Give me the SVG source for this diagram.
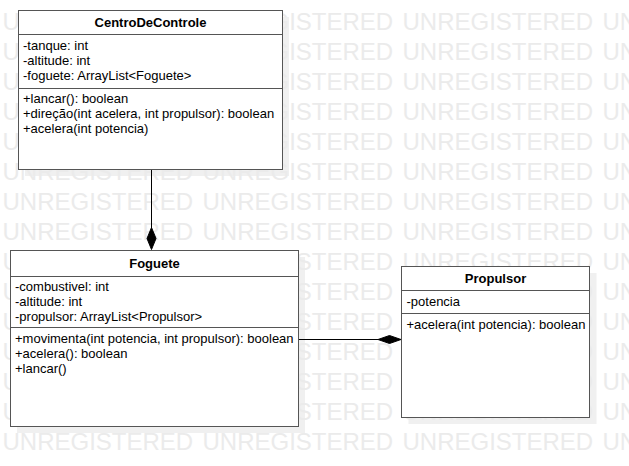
<svg xmlns="http://www.w3.org/2000/svg" width="629" height="466" viewBox="0 0 629 466">
<style>
.wm{font-family:"Liberation Sans",Arial,sans-serif;font-size:24px;fill:#ebebeb}
.shadow{fill:#f0f0f0;stroke:none}
.box{fill:#ffffff;stroke:#555555;stroke-width:1}
.sep{stroke:#555555;stroke-width:1}
.t{font-family:"Liberation Sans",Arial,sans-serif;font-size:13px;fill:#000000}
.title{font-family:"Liberation Sans",Arial,sans-serif;font-size:13px;font-weight:bold;fill:#000000;text-anchor:middle}
.conn{stroke:#000000;stroke-width:1;fill:none}
.dia{fill:#000000;stroke:#000000;stroke-width:1}
</style>
<rect x="0" y="0" width="629" height="466" fill="#ffffff"/>
<g id="shadows">
<rect class="shadow" x="25" y="17" width="264" height="159"/>
<rect class="shadow" x="17" y="257" width="288" height="176"/>
<rect class="shadow" x="408.5" y="273" width="188" height="151"/>
</g>
<g id="watermark">
<text class="wm" x="2.5" y="30">UNREGISTERED</text><text class="wm" x="202.5" y="30">UNREGISTERED</text><text class="wm" x="402.5" y="30">UNREGISTERED</text><text class="wm" x="602.5" y="30">UNREGISTERED</text>
<text class="wm" x="2.5" y="60">UNREGISTERED</text><text class="wm" x="202.5" y="60">UNREGISTERED</text><text class="wm" x="402.5" y="60">UNREGISTERED</text><text class="wm" x="602.5" y="60">UNREGISTERED</text>
<text class="wm" x="2.5" y="90">UNREGISTERED</text><text class="wm" x="202.5" y="90">UNREGISTERED</text><text class="wm" x="402.5" y="90">UNREGISTERED</text><text class="wm" x="602.5" y="90">UNREGISTERED</text>
<text class="wm" x="2.5" y="120">UNREGISTERED</text><text class="wm" x="202.5" y="120">UNREGISTERED</text><text class="wm" x="402.5" y="120">UNREGISTERED</text><text class="wm" x="602.5" y="120">UNREGISTERED</text>
<text class="wm" x="2.5" y="150">UNREGISTERED</text><text class="wm" x="202.5" y="150">UNREGISTERED</text><text class="wm" x="402.5" y="150">UNREGISTERED</text><text class="wm" x="602.5" y="150">UNREGISTERED</text>
<text class="wm" x="2.5" y="180">UNREGISTERED</text><text class="wm" x="202.5" y="180">UNREGISTERED</text><text class="wm" x="402.5" y="180">UNREGISTERED</text><text class="wm" x="602.5" y="180">UNREGISTERED</text>
<text class="wm" x="2.5" y="210">UNREGISTERED</text><text class="wm" x="202.5" y="210">UNREGISTERED</text><text class="wm" x="402.5" y="210">UNREGISTERED</text><text class="wm" x="602.5" y="210">UNREGISTERED</text>
<text class="wm" x="2.5" y="240">UNREGISTERED</text><text class="wm" x="202.5" y="240">UNREGISTERED</text><text class="wm" x="402.5" y="240">UNREGISTERED</text><text class="wm" x="602.5" y="240">UNREGISTERED</text>
<text class="wm" x="2.5" y="270">UNREGISTERED</text><text class="wm" x="202.5" y="270">UNREGISTERED</text><text class="wm" x="402.5" y="270">UNREGISTERED</text><text class="wm" x="602.5" y="270">UNREGISTERED</text>
<text class="wm" x="2.5" y="300">UNREGISTERED</text><text class="wm" x="202.5" y="300">UNREGISTERED</text><text class="wm" x="402.5" y="300">UNREGISTERED</text><text class="wm" x="602.5" y="300">UNREGISTERED</text>
<text class="wm" x="2.5" y="330">UNREGISTERED</text><text class="wm" x="202.5" y="330">UNREGISTERED</text><text class="wm" x="402.5" y="330">UNREGISTERED</text><text class="wm" x="602.5" y="330">UNREGISTERED</text>
<text class="wm" x="2.5" y="360">UNREGISTERED</text><text class="wm" x="202.5" y="360">UNREGISTERED</text><text class="wm" x="402.5" y="360">UNREGISTERED</text><text class="wm" x="602.5" y="360">UNREGISTERED</text>
<text class="wm" x="2.5" y="390">UNREGISTERED</text><text class="wm" x="202.5" y="390">UNREGISTERED</text><text class="wm" x="402.5" y="390">UNREGISTERED</text><text class="wm" x="602.5" y="390">UNREGISTERED</text>
<text class="wm" x="2.5" y="420">UNREGISTERED</text><text class="wm" x="202.5" y="420">UNREGISTERED</text><text class="wm" x="402.5" y="420">UNREGISTERED</text><text class="wm" x="602.5" y="420">UNREGISTERED</text>
<text class="wm" x="2.5" y="450">UNREGISTERED</text><text class="wm" x="202.5" y="450">UNREGISTERED</text><text class="wm" x="402.5" y="450">UNREGISTERED</text><text class="wm" x="602.5" y="450">UNREGISTERED</text>
</g>
<g id="connectors">
<line class="conn" x1="151.5" y1="169" x2="151.5" y2="228"/>
<polygon class="dia" points="151.5,227.5 156,238.5 151.5,249.5 147,238.5"/>
<line class="conn" x1="298" y1="339.5" x2="378" y2="339.5"/>
<polygon class="dia" points="401,339.5 389.5,335.5 378,339.5 389.5,343.5"/>
</g>
<g id="CentroDeControle">
<rect class="box" x="18.5" y="10.5" width="264" height="159"/>
<line class="sep" x1="18.5" y1="34.5" x2="282.5" y2="34.5"/>
<line class="sep" x1="18.5" y1="88.5" x2="282.5" y2="88.5"/>
<text class="title" x="150.5" y="27">CentroDeControle</text>
<text class="t" x="23" y="49.5">-tanque: int</text>
<text class="t" x="23" y="64.5">-altitude: int</text>
<text class="t" x="23" y="79.5">-foguete: ArrayList&lt;Foguete&gt;</text>
<text class="t" x="23" y="102.5">+lancar(): boolean</text>
<text class="t" x="23" y="117.5">+direção(int acelera, int propulsor): boolean</text>
<text class="t" x="23" y="132.5">+acelera(int potencia)</text>
</g>
<g id="Foguete">
<rect class="box" x="10.5" y="250.5" width="288" height="176"/>
<line class="sep" x1="10.5" y1="276.5" x2="298.5" y2="276.5"/>
<line class="sep" x1="10.5" y1="327.5" x2="298.5" y2="327.5"/>
<text class="title" x="154.5" y="267.5">Foguete</text>
<text class="t" x="15" y="290.5">-combustivel: int</text>
<text class="t" x="15" y="305.5">-altitude: int</text>
<text class="t" x="15" y="320.5">-propulsor: ArrayList&lt;Propulsor&gt;</text>
<text class="t" x="15" y="343">+movimenta(int potencia, int propulsor): boolean</text>
<text class="t" x="15" y="358">+acelera(): boolean</text>
<text class="t" x="15" y="373">+lancar()</text>
</g>
<g id="Propulsor">
<rect class="box" x="401.5" y="266.5" width="188" height="151"/>
<line class="sep" x1="401.5" y1="290.5" x2="589.5" y2="290.5"/>
<line class="sep" x1="401.5" y1="313.5" x2="589.5" y2="313.5"/>
<text class="title" x="495.5" y="283">Propulsor</text>
<text class="t" x="406.5" y="305.5">-potencia</text>
<text class="t" x="406.5" y="328.5">+acelera(int potencia): boolean</text>
</g>
</svg>
